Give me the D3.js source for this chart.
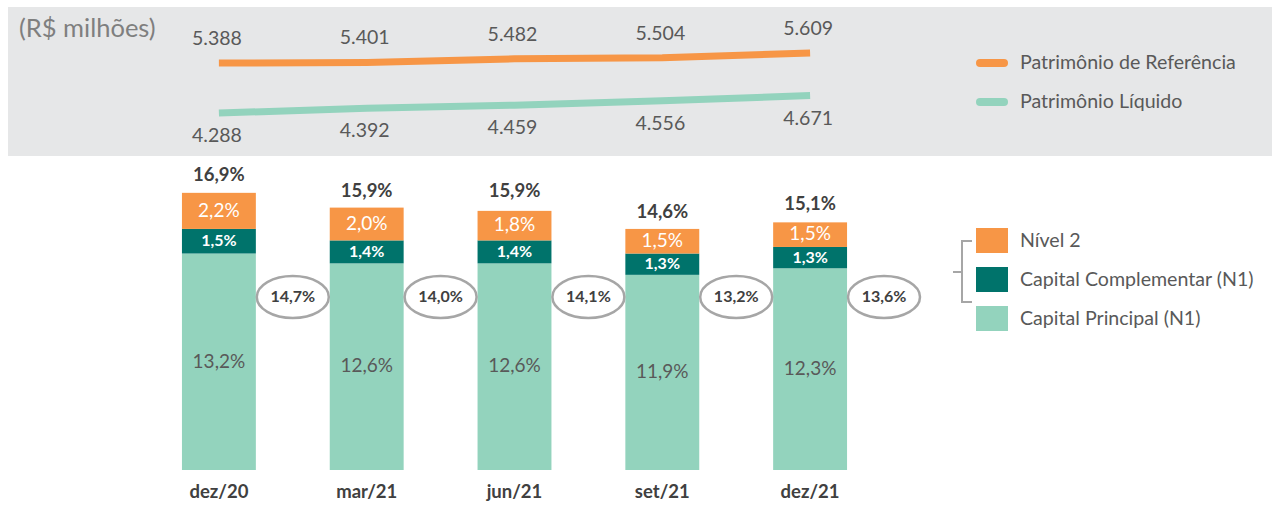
<!DOCTYPE html>
<html>
<head>
<meta charset="utf-8">
<script src="https://cdn.jsdelivr.net/npm/d3@7"></script>
<style>
  body { margin: 0; background: #fff; }
  svg { display: block; font-family: Lato, "Open Sans", sans-serif; }
</style>
</head>
<body>
<div id="chart"></div>
<script>
const categories = ['dez/20', 'mar/21', 'jun/21', 'set/21', 'dez/21'];
const patrimonioReferencia = [5388, 5401, 5482, 5504, 5609];
const patrimonioLiquido = [4288, 4392, 4459, 4556, 4671];
const capitalPrincipal = [13.2, 12.6, 12.6, 11.9, 12.3];
const capitalComplementar = [1.5, 1.4, 1.4, 1.3, 1.3];
const nivel2 = [2.2, 2.0, 1.8, 1.5, 1.5];
const totals = [16.9, 15.9, 15.9, 14.6, 15.1];
const nivel1 = [14.7, 14.0, 14.1, 13.2, 13.6];

const fmtPct = v => v.toFixed(1).replace('.', ',') + '%';
const fmtNum = v => d3.format(',')(v).replace(',', '.');

const width = 1272, height = 505;
const orange = '#f79646', dark = '#00736b', light = '#93d3bd';
const textGray = '#595959', boldGray = '#404040';

const svg = d3.create('svg')
    .attr('width', width)
    .attr('height', height);

// top panel
svg.append('rect')
    .attr('x', 8).attr('y', 7)
    .attr('width', width - 8).attr('height', 149)
    .attr('fill', '#e6e7e8');

svg.append('text')
    .attr('x', 19).attr('y', 31)
    .attr('dominant-baseline', 'middle')
    .attr('fill', '#7f7f7f')
    .style('font-size', '25.5px')
    .text('(R$ milhões)');

const x = d3.scaleBand()
    .domain(categories)
    .range([145, 884])
    .paddingInner(0.5)
    .paddingOuter(0.25);
const cx = d => x(d) + x.bandwidth() / 2;

const yLine = d3.scaleLinear()
    .domain([d3.min(patrimonioLiquido), d3.max(patrimonioReferencia)])
    .range([113, 53]);

const line = d3.line()
    .x(d => cx(d.cat))
    .y(d => yLine(d.v));

const series = [
    { name: 'Patrimônio de Referência', values: patrimonioReferencia, color: orange, dy: -23 },
    { name: 'Patrimônio Líquido', values: patrimonioLiquido, color: light, dy: 24 }
];

series.forEach((s, si) => {
    const pts = categories.map((c, i) => ({ cat: c, v: s.values[i] }));
    svg.append('path')
        .attr('d', line(pts))
        .attr('fill', 'none')
        .attr('stroke', s.color)
        .attr('stroke-width', 7);
    svg.append('g').selectAll('text')
        .data(pts)
        .join('text')
        .attr('x', d => cx(d.cat) - 2)
        .attr('y', d => yLine(d.v) + s.dy)
        .attr('text-anchor', 'middle')
        .attr('dominant-baseline', 'middle')
        .attr('fill', textGray)
        .style('font-size', '19.5px')
        .text(d => fmtNum(d.v));

    const ly = 63 + si * 39;
    svg.append('line')
        .attr('x1', 980).attr('x2', 1004)
        .attr('y1', ly).attr('y2', ly)
        .attr('stroke', s.color)
        .attr('stroke-width', 8)
        .attr('stroke-linecap', 'round');
    svg.append('text')
        .attr('x', 1020).attr('y', ly + 1)
        .attr('dominant-baseline', 'middle')
        .attr('fill', textGray)
        .style('font-size', '19.6px')
        .text(s.name);
});

// stacked bars
const yBar = d3.scaleLinear().domain([0, 20]).range([470, 142]);

const stackData = categories.map((c, i) => ({
    cat: c, principal: capitalPrincipal[i], complementar: capitalComplementar[i], nivel2: nivel2[i]
}));
const keys = ['principal', 'complementar', 'nivel2'];
const colors = { principal: light, complementar: dark, nivel2: orange };
const labelStyle = {
    principal: { fill: textGray, weight: 400, size: '19px' },
    complementar: { fill: '#ffffff', weight: 700, size: '16px' },
    nivel2: { fill: '#ffffff', weight: 400, size: '19px' }
};
const stacked = d3.stack().keys(keys)(stackData);

const layers = svg.append('g').selectAll('g')
    .data(stacked)
    .join('g')
    .attr('fill', d => colors[d.key]);

layers.selectAll('rect')
    .data(d => d.map(p => ({ key: d.key, p })))
    .join('rect')
    .attr('x', d => x(d.p.data.cat))
    .attr('y', d => yBar(d.p[1]))
    .attr('width', x.bandwidth())
    .attr('height', d => yBar(d.p[0]) - yBar(d.p[1]));

layers.selectAll('text')
    .data(d => d.map(p => ({ key: d.key, p })))
    .join('text')
    .attr('x', d => cx(d.p.data.cat))
    .attr('y', d => (yBar(d.p[0]) + yBar(d.p[1])) / 2 + 1)
    .attr('text-anchor', 'middle')
    .attr('dominant-baseline', 'middle')
    .attr('fill', d => labelStyle[d.key].fill)
    .style('font-weight', d => labelStyle[d.key].weight)
    .style('font-size', d => labelStyle[d.key].size)
    .text(d => fmtPct(d.p[1] - d.p[0]));

svg.append('g').selectAll('text')
    .data(categories)
    .join('text')
    .attr('x', d => cx(d))
    .attr('y', (d, i) => yBar(totals[i]) - 17)
    .attr('text-anchor', 'middle')
    .attr('dominant-baseline', 'middle')
    .attr('fill', boldGray)
    .style('font-weight', 700)
    .style('font-size', '18.5px')
    .text((d, i) => fmtPct(totals[i]));

// N1 ellipses
const ell = svg.append('g').selectAll('g')
    .data(categories)
    .join('g')
    .attr('transform', d => `translate(${cx(d) + x.step() / 2},297)`);
ell.append('ellipse')
    .attr('rx', 36).attr('ry', 21)
    .attr('fill', '#fff')
    .attr('stroke', '#a6a6a6')
    .attr('stroke-width', 2.5);
ell.append('text')
    .attr('text-anchor', 'middle')
    .attr('dominant-baseline', 'middle')
    .attr('y', 1)
    .attr('fill', boldGray)
    .style('font-weight', 700)
    .style('font-size', '16px')
    .text((d, i) => fmtPct(nivel1[i]));

// x axis labels
svg.append('g').selectAll('text')
    .data(categories)
    .join('text')
    .attr('x', d => cx(d))
    .attr('y', 493)
    .attr('text-anchor', 'middle')
    .attr('dominant-baseline', 'middle')
    .attr('fill', boldGray)
    .style('font-weight', 700)
    .style('font-size', '18.5px')
    .text(d => d);

// bar legend
const barLegend = [
    { name: 'Nível 2', color: orange },
    { name: 'Capital Complementar (N1)', color: dark },
    { name: 'Capital Principal (N1)', color: light }
];
const lg = svg.append('g').selectAll('g')
    .data(barLegend)
    .join('g')
    .attr('transform', (d, i) => `translate(976,${228 + i * 39})`);
lg.append('rect')
    .attr('width', 32).attr('height', 25)
    .attr('fill', d => d.color);
lg.append('text')
    .attr('x', 44).attr('y', 14)
    .attr('dominant-baseline', 'middle')
    .attr('fill', textGray)
    .style('font-size', '19.6px')
    .text(d => d.name);

// bracket
svg.append('path')
    .attr('d', 'M972,241 H962 V302 H972 M962,272 H953')
    .attr('fill', 'none')
    .attr('stroke', '#a6a6a6')
    .attr('stroke-width', 2);

document.getElementById('chart').appendChild(svg.node());
</script>
</body>
</html>
